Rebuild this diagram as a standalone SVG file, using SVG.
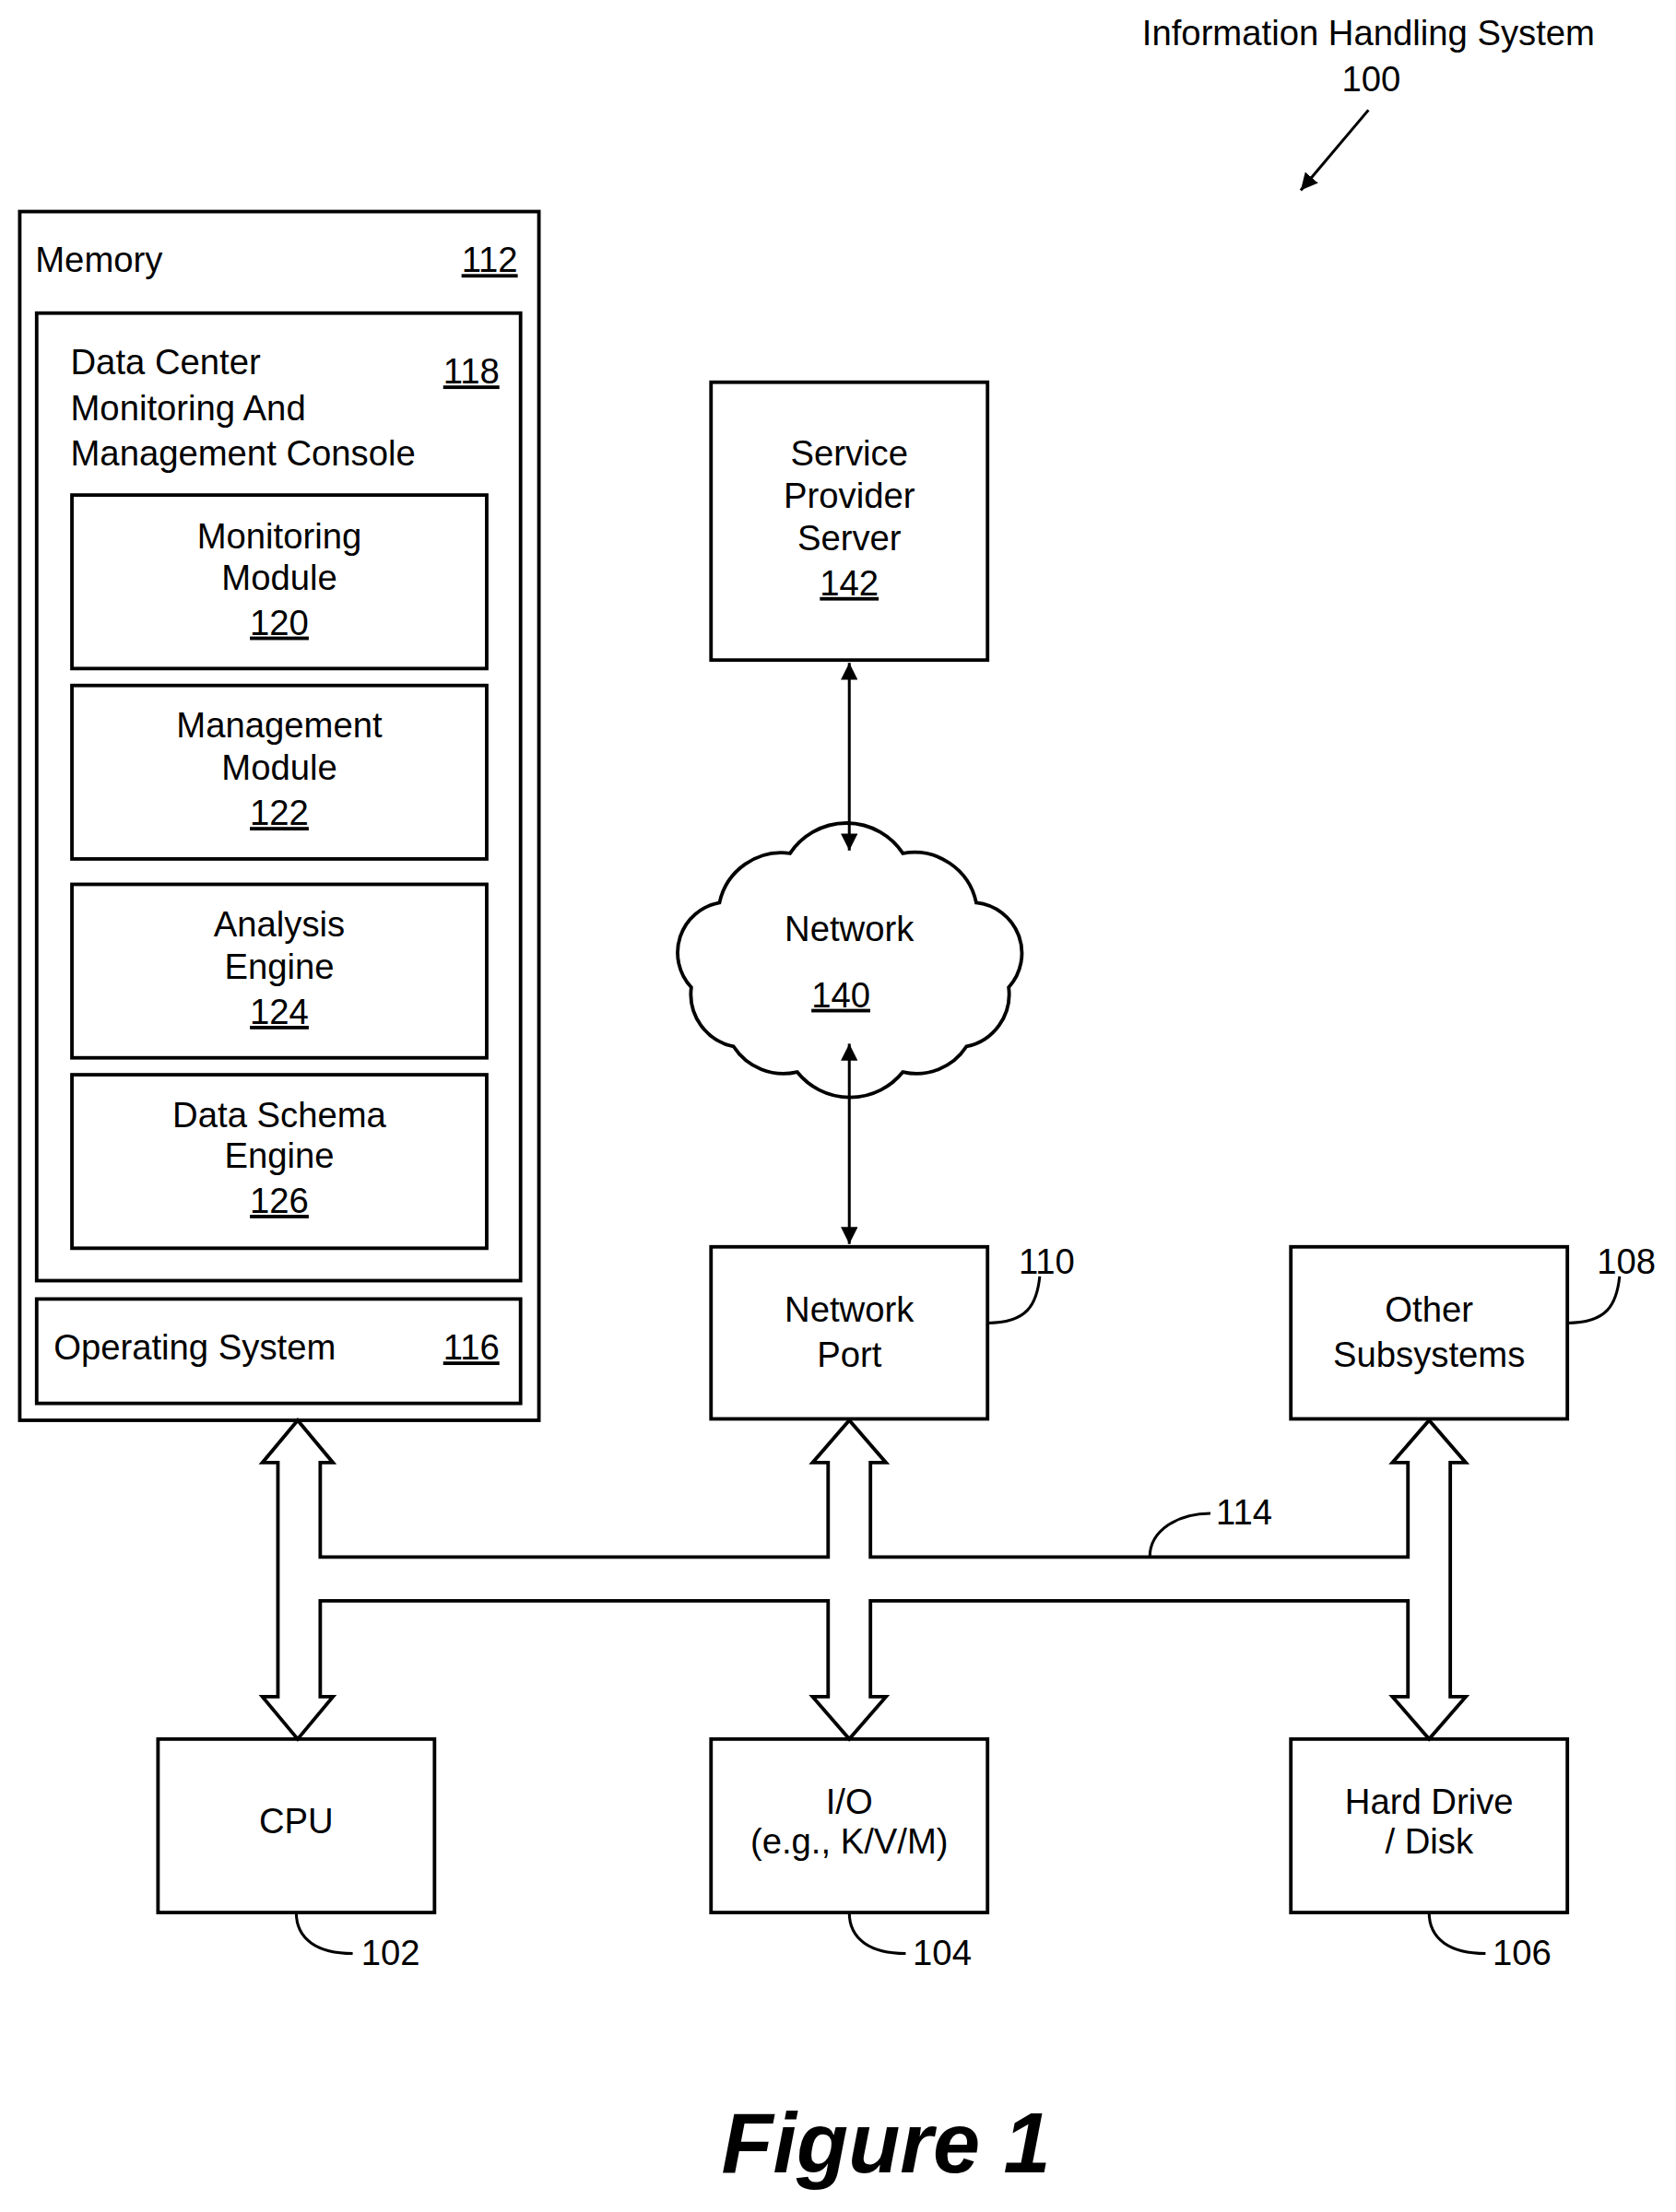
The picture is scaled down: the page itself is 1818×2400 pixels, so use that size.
<svg xmlns="http://www.w3.org/2000/svg" width="1818" height="2400" viewBox="0 0 1818 2400">
<style>
.b{fill:#fff;stroke:#000;stroke-width:2.5}
.l{fill:none;stroke:#000;stroke-width:2}
text{font-family:"Liberation Sans",Arial,sans-serif;font-size:25px;fill:#000}
.c{text-anchor:middle}
.r{text-anchor:end}
.u{text-decoration:underline}
</style>
<defs>
<marker id="ah" viewBox="0 0 10 10" refX="10" refY="5" markerWidth="12" markerHeight="12" markerUnits="userSpaceOnUse" orient="auto-start-reverse"><path d="M0,0 L10,5 L0,10 z" fill="#000"/></marker>
</defs>
<rect width="1818" height="2400" fill="#fff"/>
<g transform="scale(1.5303)">
<g id="title">
<text class="c" x="970" y="32">Information Handling System</text>
<text class="c" x="972" y="65">100</text>
</g>
<g id="memory">
<rect class="b" x="14" y="150" width="368" height="857"/>
<text x="25" y="193">Memory</text>
<text class="r u" x="367" y="193">112</text>
</g>
<g id="console">
<rect class="b" x="26" y="222" width="343" height="686"/>
<text x="50" y="265">Data Center</text>
<text x="50" y="298">Monitoring And</text>
<text x="50" y="330">Management Console</text>
<text class="r u" x="354" y="272">118</text>
</g>
<g id="m120"><rect class="b" x="51" y="351" width="294" height="123"/>
<text class="c" x="198" y="389">Monitoring</text><text class="c" x="198" y="418">Module</text><text class="c u" x="198" y="450">120</text></g>
<g id="m122"><rect class="b" x="51" y="486" width="294" height="123"/>
<text class="c" x="198" y="523">Management</text><text class="c" x="198" y="553">Module</text><text class="c u" x="198" y="585">122</text></g>
<g id="m124"><rect class="b" x="51" y="627" width="294" height="123"/>
<text class="c" x="198" y="664">Analysis</text><text class="c" x="198" y="694">Engine</text><text class="c u" x="198" y="726">124</text></g>
<g id="m126"><rect class="b" x="51" y="762" width="294" height="123"/>
<text class="c" x="198" y="799">Data Schema</text><text class="c" x="198" y="828">Engine</text><text class="c u" x="198" y="860">126</text></g>
<g id="os"><rect class="b" x="26" y="921" width="343" height="74"/>
<text x="38" y="964">Operating System</text><text class="r u" x="354" y="964">116</text></g>
<g id="sps"><rect class="b" x="504" y="271" width="196" height="197"/>
<text class="c" x="602" y="330">Service</text><text class="c" x="602" y="360">Provider</text><text class="c" x="602" y="390">Server</text><text class="c u" x="602" y="422">142</text></g>
<g id="network">
<path class="b" d="M520,742 A38,38 0 0 1 490,700 A36,36 0 0 1 510,640 A45,45 0 0 1 560,605 A48,48 0 0 1 640,605 A45,45 0 0 1 692,640 A36,36 0 0 1 715,700 A38,38 0 0 1 685,742 A42,42 0 0 1 640,760 A48,48 0 0 1 565,760 A42,42 0 0 1 520,742 Z"/>
<text class="c" x="602" y="667">Network</text><text class="c u" x="596" y="714">140</text></g>
<g id="port"><rect class="b" x="504" y="884" width="196" height="122"/>
<text class="c" x="602" y="937">Network</text><text class="c" x="602" y="969">Port</text>
<text x="722" y="903">110</text></g>
<g id="other"><rect class="b" x="915" y="884" width="196" height="122"/>
<text class="c" x="1013" y="937">Other</text><text class="c" x="1013" y="969">Subsystems</text>
<text x="1132" y="903">108</text></g>
<g id="cpu"><rect class="b" x="112" y="1233" width="196" height="123"/>
<text class="c" x="210" y="1300">CPU</text><text x="256" y="1393">102</text></g>
<g id="io"><rect class="b" x="504" y="1233" width="196" height="123"/>
<text class="c" x="602" y="1286">I/O</text><text class="c" x="602" y="1314">(e.g., K/V/M)</text><text x="647" y="1393">104</text></g>
<g id="hdd"><rect class="b" x="915" y="1233" width="196" height="123"/>
<text class="c" x="1013" y="1286">Hard Drive</text><text class="c" x="1013" y="1314">/ Disk</text><text x="1058" y="1393">106</text></g>
<g id="bus"><text x="862" y="1081">114</text></g>
<text class="c" x="628" y="1540" style="font-size:60px;font-weight:bold;font-style:italic">Figure 1</text>
<g id="connectors">
<line class="l" x1="970" y1="78" x2="922" y2="135" marker-end="url(#ah)"/>
<line class="l" x1="602" y1="470" x2="602" y2="603" marker-start="url(#ah)" marker-end="url(#ah)"/>
<line class="l" x1="602" y1="740" x2="602" y2="882" marker-start="url(#ah)" marker-end="url(#ah)"/>
<path class="l" d="M700,938 C735,938 735,905 718,900" style="display:none"/>
<path class="l" d="M700,938 C728,938 735,925 737,905"/>
<path class="l" d="M1111,938 C1139,938 1146,925 1148,905"/>
<path class="l" d="M210,1356 C210,1375 225,1385 250,1385"/>
<path class="l" d="M602,1356 C602,1375 617,1385 642,1385"/>
<path class="l" d="M1013,1356 C1013,1375 1028,1385 1053,1385"/>
<path class="l" d="M815,1104 C815,1085 835,1073 858,1073"/>
<path class="b" d="M197,1037 L186,1037 L211,1007 L236,1037 L227,1037 L227,1104 L587,1104 L587,1037 L576,1037 L602,1007 L628,1037 L617,1037 L617,1104 L998,1104 L998,1037 L987,1037 L1013,1007 L1039,1037 L1028,1037 L1028,1203 L1039,1203 L1013,1233 L987,1203 L998,1203 L998,1135 L617,1135 L617,1203 L628,1203 L602,1233 L576,1203 L587,1203 L587,1135 L227,1135 L227,1203 L236,1203 L211,1233 L186,1203 L197,1203 Z"/>
</g>
</g>
</svg>
